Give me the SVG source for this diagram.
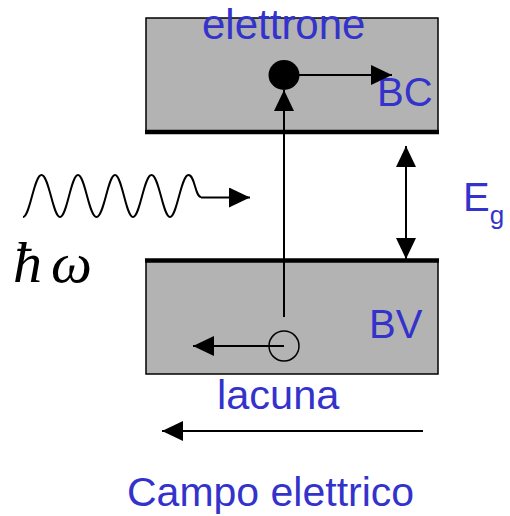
<svg xmlns="http://www.w3.org/2000/svg" width="510" height="516" viewBox="0 0 510 516">
<style>
.band{fill:#b3b3b3;stroke:#000;stroke-width:1.5}
.edge{stroke:#000;stroke-width:4.5}
.ln{stroke:#000;stroke-width:2;fill:none}
.lbl{font-family:"Liberation Sans",Arial,sans-serif;font-size:40px;fill:#3333cc}
</style>
<defs>
<marker id="ah" markerWidth="22" markerHeight="20" refX="21" refY="10" orient="auto" markerUnits="userSpaceOnUse">
<path d="M0,0 L21,10 L0,20 Z" fill="#000"/>
</marker>
</defs>
<rect width="510" height="516" fill="#fff"/>
<g id="BC">
<rect class="band" x="146" y="18" width="292" height="114"/>
<line class="edge" x1="145" y1="132" x2="439" y2="132"/>
<text class="lbl" x="202" y="39" style="font-size:42px">elettrone</text>
<text class="lbl" x="377" y="106">BC</text>
</g>
<g id="BV">
<rect class="band" x="146" y="260" width="292" height="114"/>
<line class="edge" x1="145" y1="260.5" x2="439" y2="260.5"/>
<text class="lbl" x="369" y="338">BV</text>
</g>
<g id="electron">
<ellipse cx="284" cy="75" rx="15.5" ry="15" fill="#000"/>
</g>
<g id="hole">
<circle cx="284" cy="346" r="15" fill="none" stroke="#000" stroke-width="1.5"/>
</g>
<g id="photon">
<path class="ln" stroke-width="1.5" d="M23,217 C30,217 34,175 41.5,175 C49,175 53,217 60,217 C67,217 71,175 78,175 C85,175 89,217 96.5,217 C104,217 108,175 115,175 C122,175 126,217 133,217 C140,217 144,175 151.5,175 C159,175 163,217 170,217 C177,217 181,175 188.5,175 C195,175 195,197 201,197"/>
<text x="13" y="282" font-family="'Liberation Serif','Times New Roman',serif" font-style="italic" font-size="58">ħ<tspan dx="9">ω</tspan></text>
</g>
<g id="Eg">
<text class="lbl" x="463" y="211">E<tspan font-size="26" dy="13">g</tspan></text>
</g>
<g id="connectors">
<line class="ln" x1="201" y1="197.5" x2="250" y2="197.5" marker-end="url(#ah)"/>
<line class="ln" x1="299" y1="75" x2="392" y2="75" marker-end="url(#ah)"/>
<line class="ln" x1="284" y1="317" x2="284" y2="90" marker-end="url(#ah)"/>
<line class="ln" x1="284" y1="346" x2="193" y2="346" marker-end="url(#ah)"/>
<line class="ln" x1="406" y1="200" x2="406" y2="146" marker-end="url(#ah)"/>
<line class="ln" x1="406" y1="200" x2="406" y2="259" marker-end="url(#ah)"/>
<line class="ln" x1="423" y1="431" x2="162" y2="431" marker-end="url(#ah)"/>
</g>
<g id="labels">
<text class="lbl" x="217" y="409" style="font-size:41.5px">lacuna</text>
<text class="lbl" x="127" y="506" style="font-size:41px">Campo elettrico</text>
</g>
</svg>
